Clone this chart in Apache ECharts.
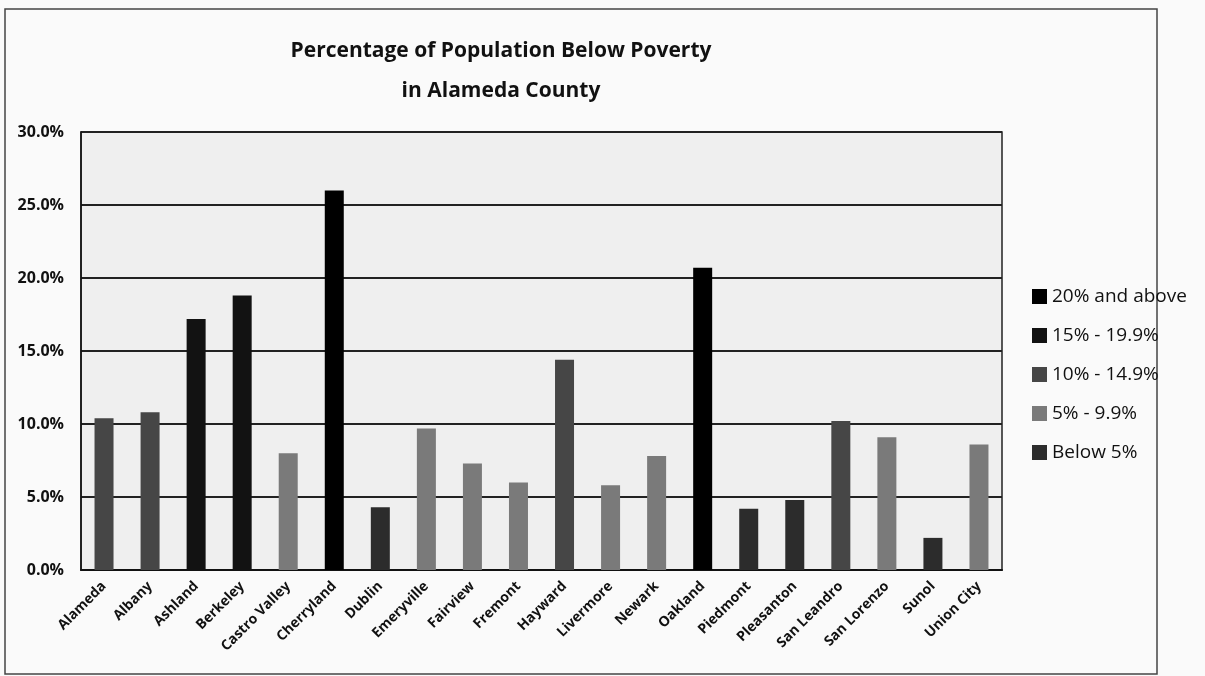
<!DOCTYPE html>
<html>
<head>
<meta charset="utf-8">
<script src="https://cdn.jsdelivr.net/npm/echarts@6/dist/echarts.min.js"></script>
<style>
  html, body { margin: 0; padding: 0; background: #fff; }
  #chart { width: 1205px; height: 676px; }
</style>
</head>
<body>
<div id="chart"></div>
<script>
// cities and their poverty rate (%)
const cities = ['Alameda', 'Albany', 'Ashland', 'Berkeley', 'Castro Valley', 'Cherryland', 'Dublin',
  'Emeryville', 'Fairview', 'Fremont', 'Hayward', 'Livermore', 'Newark', 'Oakland', 'Piedmont',
  'Pleasanton', 'San Leandro', 'San Lorenzo', 'Sunol', 'Union City'];
const rates = [10.4, 10.8, 17.2, 18.8, 8.0, 26.0, 4.3, 9.7, 7.3, 6.0, 14.4, 5.8, 7.8, 20.7, 4.2,
  4.8, 10.2, 9.1, 2.2, 8.6];

// legend brackets, lower bound of each
const brackets = ['20% and above', '15% - 19.9%', '10% - 14.9%', '5% - 9.9%', 'Below 5%'];
const bracketMin = [20, 15, 10, 5, 0];
const bracketColors = ['#000000', '#121212', '#464646', '#7a7a7a', '#2c2c2c'];

const chart = echarts.init(document.getElementById('chart'));

const bracketOf = v => bracketMin.findIndex(m => v >= m);

const series = brackets.map((name, bi) => ({
  name,
  type: 'bar',
  stack: 'all',
  barWidth: 19,
  itemStyle: { color: bracketColors[bi] },
  data: rates.map(v => (bracketOf(v) === bi ? v : null))
}));

const font = 'Open Sans';

chart.setOption({
  backgroundColor: '#fafafa',
  animation: false,
  title: {
    text: 'Percentage of Population Below Poverty\nin Alameda County',
    left: 496,
    textAlign: 'center',
    top: 26,
    textStyle: { fontFamily: font, fontSize: 21, fontWeight: 'bold', color: '#111', lineHeight: 40 }
  },
  legend: {
    orient: 'vertical',
    left: 1027,
    top: 282,
    itemWidth: 15,
    itemHeight: 15,
    itemGap: 20,
    icon: 'rect',
    data: brackets,
    textStyle: { fontFamily: font, fontSize: 19, color: '#111' }
  },
  grid: {
    left: 81, right: 203, top: 132, bottom: 106,
    show: true, borderColor: '#222', borderWidth: 1.5, backgroundColor: '#efefef'
  },
  xAxis: {
    type: 'category',
    data: cities,
    axisTick: { show: false },
    axisLine: { lineStyle: { color: '#111', width: 2 } },
    axisLabel: {
      interval: 0, rotate: 45, margin: 14,
      fontFamily: font, fontSize: 14, fontWeight: 'bold', color: '#111'
    }
  },
  yAxis: {
    type: 'value',
    min: 0, max: 30, interval: 5,
    axisLine: { show: true, lineStyle: { color: '#111', width: 1.5 } },
    axisTick: { show: false },
    splitLine: { lineStyle: { color: '#222', width: 2 } },
    axisLabel: {
      formatter: v => v.toFixed(1) + '%',
      fontFamily: font, fontSize: 16, fontWeight: 'bold', color: '#111', margin: 17
    }
  },
  graphic: [{
    type: 'rect',
    shape: { x: 5, y: 9, width: 1152, height: 665 },
    style: { fill: null, stroke: '#444', lineWidth: 1.5 }
  }],
  series
});
</script>
</body>
</html>
